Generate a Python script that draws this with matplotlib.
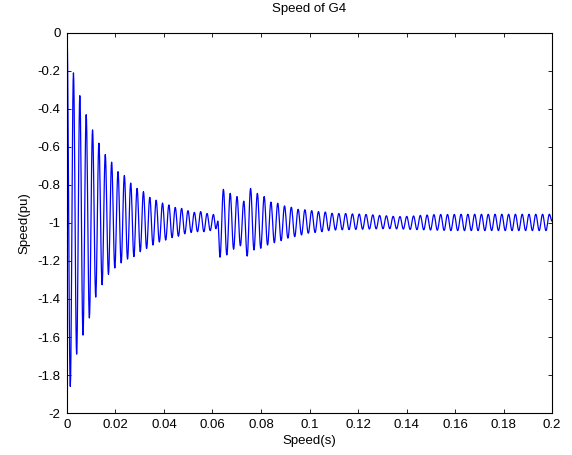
import numpy as np
import matplotlib
matplotlib.use("Agg")
import matplotlib.pyplot as plt

plt.rcParams['font.family'] = ['Liberation Sans', 'DejaVu Sans']
plt.rcParams['axes.unicode_minus'] = False

# swing extrema (pu)
# part 1: fault swing, 0 .. ~0.062 s
seg1_start = 0.00136
seg1_period = 0.002623
seg1_trough = [-1.86, -1.69, -1.59, -1.50, -1.39, -1.325, -1.27, -1.237, -1.21, -1.19,
               -1.177, -1.151, -1.134, -1.116, -1.10, -1.09, -1.077, -1.07, -1.057, -1.05,
               -1.046, -1.046, -1.04]
seg1_peak = [-0.21, -0.33, -0.43, -0.51, -0.58, -0.64, -0.68, -0.73, -0.75, -0.79,
             -0.818, -0.835, -0.865, -0.88, -0.895, -0.905, -0.918, -0.923, -0.935, -0.944,
             -0.94, -0.95, -0.955]

# small wobble just before the second kick
bridge_t = [0.0614, 0.0622]
bridge_v = [-1.03, -0.99]

# part 2: second disturbance, ~0.063 .. 0.2 s
seg2_start = 0.0631
seg2_period = 0.0028
seg2_trough = [-1.18, -1.168, -1.138, -1.12, -1.174, -1.142, -1.133, -1.116, -1.104, -1.093,
               -1.08, -1.072, -1.063, -1.054, -1.05, -1.046, -1.04, -1.037, -1.036, -1.035,
               -1.034, -1.033, -1.032, -1.031, -1.03, -1.03, -1.031, -1.032, -1.034, -1.035,
               -1.036, -1.037, -1.038, -1.039, -1.04, -1.04, -1.04, -1.04, -1.04, -1.04,
               -1.04, -1.04, -1.04, -1.04, -1.04, -1.04, -1.04, -1.04, -1.04]
seg2_peak = [-0.823, -0.844, -0.861, -0.885, -0.818, -0.844, -0.861, -0.89, -0.896, -0.91,
             -0.917, -0.928, -0.93, -0.935, -0.94, -0.942, -0.949, -0.95, -0.95, -0.952,
             -0.953, -0.955, -0.957, -0.96, -0.962, -0.965, -0.966, -0.965, -0.963, -0.96,
             -0.958, -0.956, -0.955, -0.955, -0.955, -0.954, -0.954, -0.954, -0.954, -0.954,
             -0.954, -0.954, -0.954, -0.954, -0.954, -0.954, -0.954, -0.954, -0.954]

xticks = [0, 0.02, 0.04, 0.06, 0.08, 0.1, 0.12, 0.14, 0.16, 0.18, 0.2]
xlabels = ['0', '0.02', '0.04', '0.06', '0.08', '0.1', '0.12', '0.14', '0.16', '0.18', '0.2']
yticks = [0, -0.2, -0.4, -0.6, -0.8, -1, -1.2, -1.4, -1.6, -1.8, -2]
ylabels = ['0', '-0.2', '-0.4', '-0.6', '-0.8', '-1', '-1.2', '-1.4', '-1.6', '-1.8', '-2']


def extrema(start, period, troughs, peaks):
    tt, vv = [], []
    for i, (lo, hi) in enumerate(zip(troughs, peaks)):
        t0 = start + i * period
        tt += [t0, t0 + period / 2]
        vv += [lo, hi]
    return tt, vv


t1, v1 = extrema(seg1_start, seg1_period, seg1_trough, seg1_peak)
t2, v2 = extrema(seg2_start, seg2_period, seg2_trough, seg2_peak)
ext_t = [0.0] + t1 + bridge_t + t2 + [0.2]
ext_v = [0.0] + v1 + bridge_v + v2 + [-0.99]

# smooth (half-cosine) swing between successive extrema
t, v = [], []
for a in range(len(ext_t) - 1):
    s = np.linspace(0, 1, 10, endpoint=False)
    w = (1 - np.cos(np.pi * s)) / 2
    t.extend(ext_t[a] + (ext_t[a + 1] - ext_t[a]) * s)
    v.extend(ext_v[a] + (ext_v[a + 1] - ext_v[a]) * w)
t.append(ext_t[-1])
v.append(ext_v[-1])

fig = plt.figure(figsize=(5.72, 4.55), dpi=100)
ax = fig.add_axes([0.1171, 0.0923, 0.848, 0.8352])
ax.plot(t, v, color='#0000ff', linewidth=0.9)

ax.set_xlim(0, 0.2)
ax.set_ylim(-2, 0)
ax.set_xticks(xticks)
ax.set_xticklabels(xlabels)
ax.set_yticks(yticks)
ax.set_yticklabels(ylabels)
ax.tick_params(direction='in', top=True, right=True, labelsize=9.5, length=3, width=0.6, pad=4.5)
for sp in ax.spines.values():
    sp.set_linewidth(0.8)

ax.set_title('Speed of G4', fontsize=9.5, pad=15)
ax.set_xlabel('Speed(s)', fontsize=9.5, labelpad=3)
ax.set_ylabel('Speed(pu)', fontsize=9.5, labelpad=5.5)

fig.savefig('out.png', dpi=100)
